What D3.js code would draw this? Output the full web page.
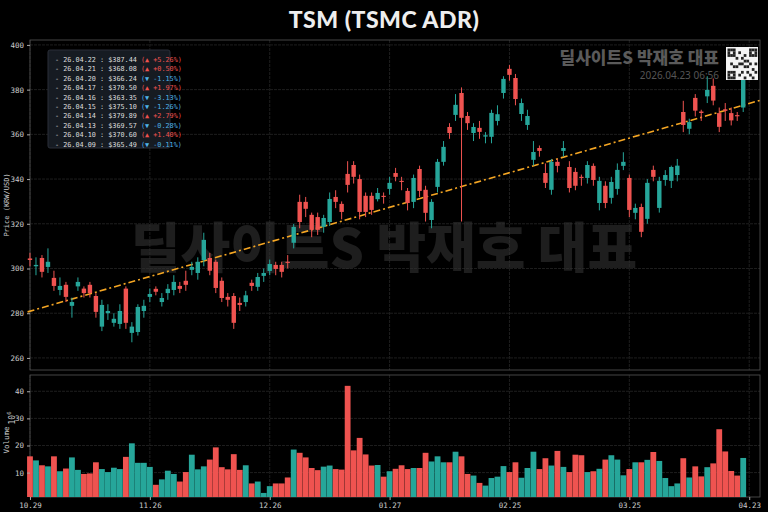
<!DOCTYPE html>
<html>
<head>
<meta charset="utf-8">
<script src="https://cdn.jsdelivr.net/npm/d3@7"></script>
<style>
  body { margin: 0; background: #000; }
  svg { display: block; }
</style>
</head>
<body>
<svg id="chart" width="768" height="512"></svg>
<script>
// ---------- DATA ----------
var opens = [304.5,301,304.7,300.7,295.8,290.4,292.7,283.3,292,291,292.7,287.7,274,280,275.7,275.2,291,271.2,271.6,281,
  287.3,290.9,285,289,290.4,292.2,294.5,299.4,298,303.8,304.7,303,294.5,287.3,287.7,284.6,285,293.6,291.8,296.7,
  298.9,301.6,301.6,303,311.5,329.8,329.8,324,323,318.6,320.8,332,328.9,342.3,346.3,340,332.5,332.5,331,332.5,
  335.6,342.7,339.2,334.7,329.8,344.5,335.2,321.7,336.5,347.7,363.3,368.7,378.5,368.2,360.6,362.9,359,358.9,366,378.5,
  389.3,385.2,369.1,364.2,348.6,353.9,342.7,335.2,347.7,352.6,345.4,343.2,341,340.5,345.9,329.3,337,331.6,335.6,345.9,
  340.5,324.9,327.5,322.2,344.1,327.1,339.6,339.2,341.8,370,362.5,376.3,370.2,377,381.7,369.5,371.2,369.5,368.6,372];
var closes = [303.8,301.6,298.5,303,292.2,292.2,287.3,285,294,289,289,280.6,283.7,281,277.5,281,275.7,274,282.8,283.3,
  288.6,289.6,286.8,290.9,294,290.9,292.7,300.7,303,312.8,299,291.3,286.8,286,275.7,283.7,288,292.2,296.2,298,
  302,299.8,298.5,302.5,318.6,320.8,326.7,317.3,317.3,322.6,331.1,329.8,325.3,337.4,341,325.3,325.3,326.2,333.8,332,
  338.3,341,338.7,329.3,340.5,334.7,324.9,329.8,347.7,354.4,360.6,373.2,367.4,365,363.3,361.1,359.6,369.6,369,384.8,
  386.6,375.8,374,368.2,352.1,352.6,338.3,347.7,345.9,353.9,336,337,340.5,346.3,339.6,339.2,329.3,338.7,344.1,347.7,
  326.2,327.1,316.4,338.3,341,339.2,341.8,345.4,346,364.2,365.49,370.60,369.57,379.89,375.10,363.35,370.50,366.24,368.08,387.44];
var highs = [307,305,306,309,299,296,294,287,296,292,294,289,286,284,280,284,292,276,284,286,
  291,292,289,293,297,294,299,303,305,316,307,304,296,289,289,287,290,295,298,300,
  304,303,303,306,320,333,332,325,325,324,334,335,330,348,348,342,334,334,336,334,
  341,345,341,336,342,346,337,331,349,357,365,378,381,370,365,366,361,371,373,386,
  391,387,376,371,357,355,347,349,349,357,348,345,342,348,347,341,339,341,347,352,
  342,329,329,340,346,341,344,346,349,375,367,378,371,386,385,372,374,372,370,396];
var lows = [301,297,296,298,290,288,285,278,290,287,287,278,272,277,274,273,273,267,270,278,
  285,288,283,286,288,289,290,297,295,301,297,289,285,283,273,281,283,290,290,294,
  297,297,296,300,309,318,323,314,315,316,319,327,322,334,338,322,323,324,330,329,
  333,339,335,326,327,332,321,318,334,346,358,366,321,362,357,358,356,356,364,376,
  384,373,366,362,346,350,336,333,343,350,334,335,337,338,337,326,327,329,333,344,
  323,322,314,320,339,325,337,336,339,361,360,368,366,374,373,361,366,364,366,370];
var volumes = [16,14.5,12.7,12.3,16,10.5,11.5,15.6,11,9.5,9.7,13.8,11.3,10.2,11.8,11.3,15.8,20.8,13.6,13.6,
  12.1,5.5,7.5,10.7,9.5,6.7,10.2,16.6,11.2,12.3,14.8,19.3,12,11.2,16.8,11,12.7,6,6.7,2.5,
  5,6,6,8.2,18.5,17.3,15.6,11.7,10.9,12.2,12.6,11.3,11.1,42,18.2,22.8,16.7,12.6,12.8,8.5,
  10.5,11.4,12.7,11.3,11.7,11.7,17.3,14.1,16,13.8,13.8,17.7,16,9.5,8.9,6.2,5.2,8,8.5,12.4,
  10.2,13.8,8.1,11.7,17.7,11.3,15.3,12.6,18,12.1,10.2,16.6,16.4,10.2,10.5,11.4,14.8,16.4,14.8,9,
  11.3,13.8,13.8,14.7,17.6,14.3,8,5,6,15.3,8.2,12.3,8.6,12,13.4,26,17.8,10.6,8.9,15.4];

var dateTicks = ["10.29","11.26","12.26","01.27","02.25","03.25","04.23"];
var dateTickIdx = [0,20,40,60,80,100,120];
var priceTicks = [260,280,300,320,340,360,380,400];
var volTicks = [10,20,30,40];

var trendIdx = [-0.4, 121.8];
var trendVal = [280.6, 375.2];

var legendDates = ["26.04.22","26.04.21","26.04.20","26.04.17","26.04.16","26.04.15","26.04.14","26.04.13","26.04.10","26.04.09"];
var legendPrices = [387.44,368.08,366.24,370.50,363.35,375.10,379.89,369.57,370.60,365.49];
var legendChanges = [5.26,0.50,-1.15,1.97,-3.13,-1.26,2.79,-0.28,1.40,-0.11];

// ---------- SETUP ----------
var svg = d3.select("#chart");
var L = 30, R = 760, pTop = 40, pBot = 370, vTop = 375, vBot = 497;
var up = "#26a69a", down = "#ef5350";
var mono = "'DejaVu Sans Mono', monospace";

var x = d3.scaleLinear().domain([-0.33, 121.8]).range([28, 760]);
var yP = d3.scaleLinear().domain([254.6, 402.2]).range([pBot, pTop]);
var yV = d3.scaleLinear().domain([1, 46]).range([vBot, vTop]);

svg.append("rect").attr("width", 768).attr("height", 512).attr("fill", "#000");

// watermark
svg.append("text").attr("x", 384).attr("y", 268).attr("text-anchor", "middle")
  .attr("font-family", "'Noto Sans CJK KR', sans-serif").attr("font-weight", 900)
  .attr("font-size", 54).attr("fill", "#1e1e1e").text("딜사이트S 박재호 대표");

// grids
function grid(scale, ticks, y0, y1) {
  svg.append("g").selectAll("line").data(ticks).join("line")
    .attr("x1", L).attr("x2", R).attr("y1", d => scale(d)).attr("y2", d => scale(d))
    .attr("stroke", "#333").attr("stroke-width", 0.6).attr("stroke-dasharray", "3,1");
  svg.append("g").selectAll("line").data(dateTickIdx).join("line")
    .attr("x1", d => x(d)).attr("x2", d => x(d)).attr("y1", y0).attr("y2", y1)
    .attr("stroke", "#333").attr("stroke-width", 0.6).attr("stroke-dasharray", "3,1");
}
grid(yP, priceTicks, pTop, pBot);
grid(yV, volTicks, vTop, vBot);

// frames
[[pTop, pBot], [vTop, vBot]].forEach(function(p) {
  svg.append("rect").attr("x", L).attr("y", p[0]).attr("width", R - L).attr("height", p[1] - p[0])
    .attr("fill", "none").attr("stroke", "#555").attr("stroke-width", 0.8);
});

// trend line
svg.append("line")
  .attr("x1", x(trendIdx[0])).attr("y1", yP(trendVal[0]))
  .attr("x2", x(trendIdx[1])).attr("y2", yP(trendVal[1]))
  .attr("stroke", "#f5a623").attr("stroke-width", 1.6).attr("stroke-dasharray", "7,3,2,3");

// candles
var idx = d3.range(closes.length);
var g = svg.append("g");
g.selectAll("line.wick").data(idx).join("line")
  .attr("x1", i => x(i)).attr("x2", i => x(i))
  .attr("y1", i => yP(highs[i])).attr("y2", i => yP(lows[i]))
  .attr("stroke", i => closes[i] >= opens[i] ? up : down).attr("stroke-width", 1);
g.selectAll("rect").data(idx).join("rect")
  .attr("x", i => x(i) - 2.2).attr("width", 4.4)
  .attr("y", i => yP(Math.max(opens[i], closes[i])))
  .attr("height", i => Math.max(1, Math.abs(yP(opens[i]) - yP(closes[i]))))
  .attr("fill", i => closes[i] >= opens[i] ? up : down);

// volume
svg.append("g").selectAll("rect").data(idx).join("rect")
  .attr("x", i => x(i) - 2.9).attr("width", 5.8)
  .attr("y", i => yV(volumes[i])).attr("height", i => vBot - yV(volumes[i]))
  .attr("fill", i => closes[i] >= opens[i] ? up : down);

// axes
var axP = svg.append("g").attr("transform", "translate(" + L + ",0)")
  .call(d3.axisLeft(yP).tickValues(priceTicks).tickSize(3));
var axV = svg.append("g").attr("transform", "translate(" + L + ",0)")
  .call(d3.axisLeft(yV).tickValues(volTicks).tickSize(3));
var axX = svg.append("g").attr("transform", "translate(0," + vBot + ")")
  .call(d3.axisBottom(x).tickValues(dateTickIdx).tickFormat((d, i) => dateTicks[i]).tickSize(3));
[axP, axV, axX].forEach(function(a) {
  a.select(".domain").remove();
  a.selectAll("line").attr("stroke", "#aaa");
  a.selectAll("text").attr("fill", "#ccc").attr("font-family", mono).attr("font-size", 7.5);
});

svg.append("text").attr("transform", "translate(9,205) rotate(-90)").attr("text-anchor", "middle")
  .attr("font-family", mono).attr("font-size", 7).attr("fill", "#ccc").text("Price (KRW/USD)");
svg.append("text").attr("transform", "translate(9,440) rotate(-90)").attr("text-anchor", "middle")
  .attr("font-family", mono).attr("font-size", 7.5).attr("fill", "#ccc").text("Volume");
svg.append("text").attr("transform", "translate(15,418) rotate(-90)").attr("text-anchor", "middle")
  .attr("font-family", mono).attr("font-size", 8).attr("fill", "#ccc")
  .html("10<tspan dy='-4' font-size='5.5'>6</tspan>");

// title
svg.append("text").attr("x", 384).attr("y", 28).attr("text-anchor", "middle")
  .attr("font-family", "'Lato', sans-serif").attr("font-weight", 900)
  .attr("font-size", 23).attr("letter-spacing", 0.5).attr("fill", "#eee").text("TSM (TSMC ADR)");

// branding
svg.append("text").attr("x", 719).attr("y", 64).attr("text-anchor", "end")
  .attr("font-family", "'Noto Sans CJK KR', sans-serif").attr("font-weight", 900)
  .attr("font-size", 17).attr("fill", "#5a5a5a").text("딜사이트S 박재호 대표");
svg.append("text").attr("x", 719).attr("y", 79).attr("text-anchor", "end")
  .attr("font-family", "'Noto Sans', sans-serif").attr("font-size", 10)
  .attr("fill", "#555").text("2026.04.23 06:56");
var qr = svg.append("g").attr("transform", "translate(726,47)");
qr.append("rect").attr("width", 32).attr("height", 33).attr("fill", "#f4f4f4");
var qrCells = [[0,0],[0,1],[0,2],[1,0],[2,0],[2,1],[2,2],[1,2],[8,0],[9,0],[10,0],[8,1],[10,1],[8,2],[9,2],[10,2],
  [0,8],[1,8],[2,8],[0,9],[2,9],[0,10],[1,10],[2,10],[4,1],[5,3],[6,2],[4,5],[5,5],[7,4],[3,6],[6,6],[8,5],[9,7],
  [5,8],[7,8],[4,9],[6,10],[8,9],[10,8],[9,10],[3,3],[7,6],[10,5],[1,5],[2,6],[6,4]];
qr.selectAll("rect.c").data(qrCells).join("rect").attr("class", "c")
  .attr("x", d => 1.5 + d[0] * 2.7).attr("y", d => 1.5 + d[1] * 2.8)
  .attr("width", 2.7).attr("height", 2.8).attr("fill", "#222");

// legend box
var lg = svg.append("g").attr("transform", "translate(48,50)");
lg.append("rect").attr("width", 122).attr("height", 98).attr("rx", 2)
  .attr("fill", "#161b22").attr("stroke", "#2a2f38");
legendDates.forEach(function(d, i) {
  var t = lg.append("text").attr("x", 7).attr("y", 12 + i * 9.4)
    .attr("font-family", mono).attr("font-size", 6.8).attr("fill", "#ddd");
  t.append("tspan").text("- " + d + " : $" + legendPrices[i].toFixed(2) + " ");
  var c = legendChanges[i];
  t.append("tspan").attr("fill", c >= 0 ? "#ef5350" : "#4fb3e8")
    .text("(" + (c >= 0 ? "▲ +" : "▼ ") + c.toFixed(2) + "%)");
});
</script>
</body>
</html>
